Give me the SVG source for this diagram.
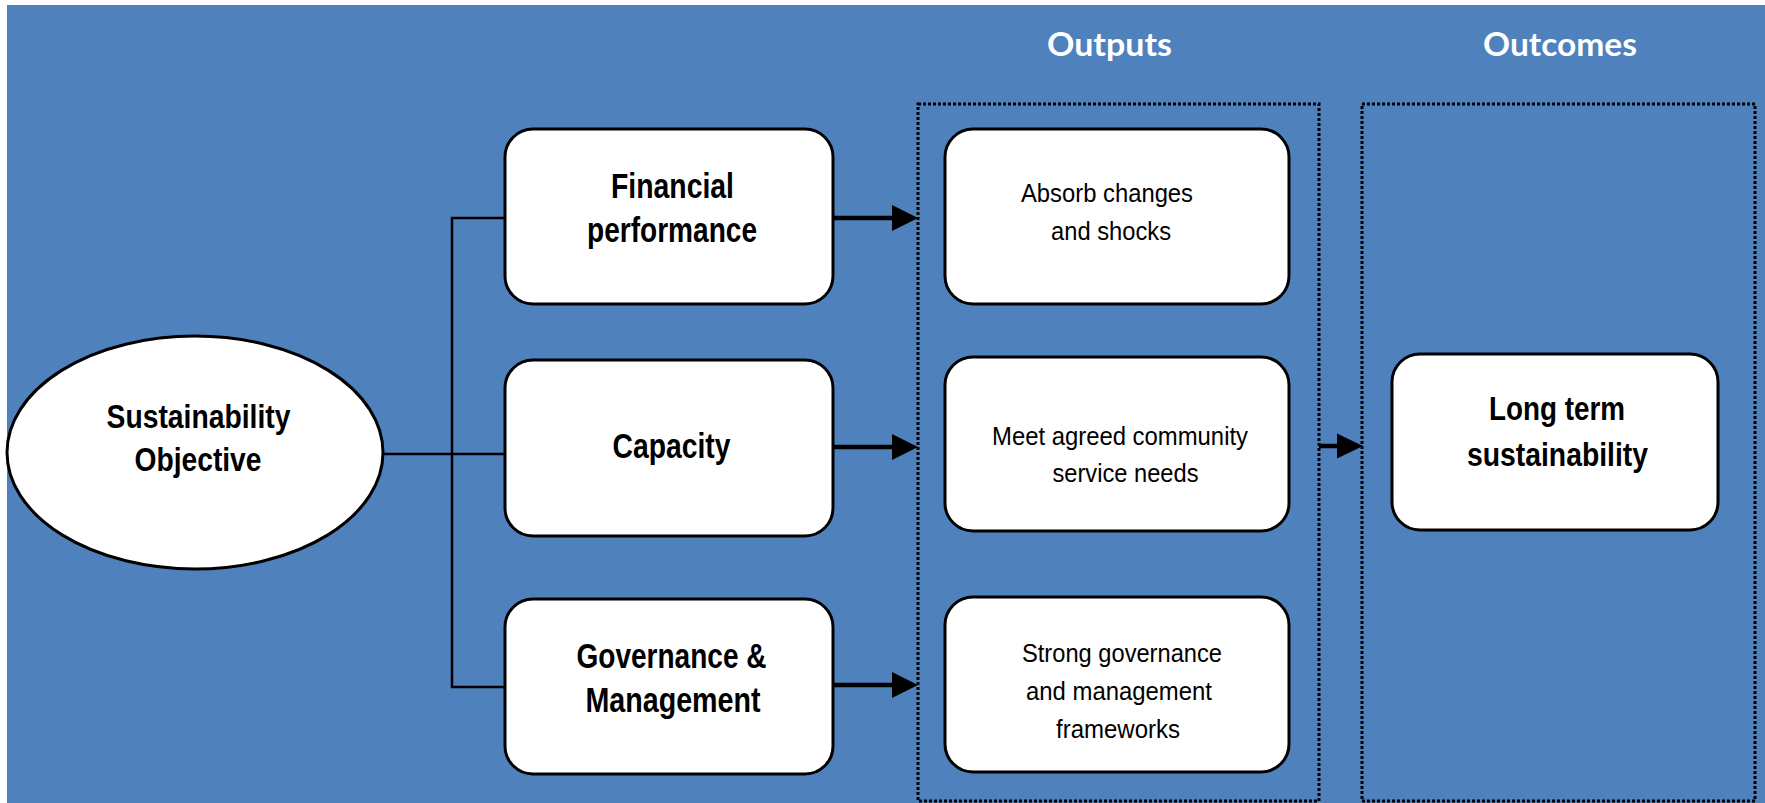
<svg xmlns="http://www.w3.org/2000/svg" width="1765" height="803" viewBox="0 0 1765 803">
<style>
.node{fill:#ffffff;stroke:#000000;stroke-width:3}
.frame{fill:none;stroke:#000000;stroke-width:3;stroke-dasharray:3 2}
.conn{fill:none;stroke:#000000;stroke-width:2.5}
.arr{fill:none;stroke:#000000;stroke-width:4.5}
.head{fill:#000000}
.b{font-family:"Liberation Sans",Arial,sans-serif;font-weight:bold;fill:#000000;text-anchor:middle}
.r{font-family:"Liberation Sans",Arial,sans-serif;fill:#000000;text-anchor:middle;font-size:26px}
.t{font-family:Lato,"Open Sans",sans-serif;font-weight:bold;fill:#ffffff;text-anchor:middle;font-size:33px}
</style>
<rect x="7" y="5" width="1758" height="798" fill="#4F81BD"/>
<g id="titles">
<text class="t" x="1109.5" y="56" textLength="125" lengthAdjust="spacingAndGlyphs">Outputs</text>
<text class="t" x="1560" y="56" textLength="154" lengthAdjust="spacingAndGlyphs">Outcomes</text>
</g>
<g id="frame-outputs"><rect class="frame" x="918" y="104" width="401" height="697"/></g>
<g id="frame-outcomes"><rect class="frame" x="1362" y="104" width="393" height="697"/></g>
<g id="connectors">
<line class="conn" x1="383" y1="454" x2="505" y2="454"/>
<line class="conn" x1="452" y1="217" x2="452" y2="688"/>
<line class="conn" x1="451" y1="218" x2="505" y2="218"/>
<line class="conn" x1="451" y1="687" x2="505" y2="687"/>
<line class="arr" x1="834" y1="218" x2="894" y2="218"/>
<polygon class="head" points="892,205 918,218 892,231"/>
<line class="arr" x1="834" y1="447" x2="894" y2="447"/>
<polygon class="head" points="892,434 918,447 892,460"/>
<line class="arr" x1="834" y1="685" x2="894" y2="685"/>
<polygon class="head" points="892,672 918,685 892,698"/>
<line class="arr" x1="1319" y1="446" x2="1339" y2="446"/>
<polygon class="head" points="1337,433.5 1363,446 1337,458.5"/>
</g>
<g id="objective">
<ellipse class="node" cx="195" cy="452.5" rx="188" ry="116.5"/>
<text class="b" font-size="34" x="198.5" y="427.5" textLength="184" lengthAdjust="spacingAndGlyphs">Sustainability</text>
<text class="b" font-size="34" x="198" y="470.5" textLength="127" lengthAdjust="spacingAndGlyphs">Objective</text>
</g>
<g id="financial">
<rect class="node" x="505" y="129" width="328" height="175" rx="28"/>
<text class="b" font-size="35" x="672.5" y="198" textLength="123" lengthAdjust="spacingAndGlyphs">Financial</text>
<text class="b" font-size="35" x="672" y="242" textLength="170" lengthAdjust="spacingAndGlyphs">performance</text>
</g>
<g id="capacity">
<rect class="node" x="505" y="360" width="328" height="176" rx="28"/>
<text class="b" font-size="35" x="671.5" y="458" textLength="118" lengthAdjust="spacingAndGlyphs">Capacity</text>
</g>
<g id="governance">
<rect class="node" x="505" y="599" width="328" height="175" rx="28"/>
<text class="b" font-size="35" x="671.5" y="668" textLength="190" lengthAdjust="spacingAndGlyphs">Governance &amp;</text>
<text class="b" font-size="35" x="673" y="712" textLength="175" lengthAdjust="spacingAndGlyphs">Management</text>
</g>
<g id="absorb">
<rect class="node" x="945" y="129" width="344" height="175" rx="28"/>
<text class="r" x="1107" y="201.5" textLength="172" lengthAdjust="spacingAndGlyphs">Absorb changes</text>
<text class="r" x="1111" y="239.5" textLength="120" lengthAdjust="spacingAndGlyphs">and shocks</text>
</g>
<g id="meet">
<rect class="node" x="945" y="357" width="344" height="174" rx="28"/>
<text class="r" x="1120" y="445" textLength="256" lengthAdjust="spacingAndGlyphs">Meet agreed community</text>
<text class="r" x="1125.5" y="482" textLength="146" lengthAdjust="spacingAndGlyphs">service needs</text>
</g>
<g id="strong">
<rect class="node" x="945" y="597" width="344" height="175" rx="28"/>
<text class="r" x="1122" y="662" textLength="200" lengthAdjust="spacingAndGlyphs">Strong governance</text>
<text class="r" x="1119" y="700" textLength="186" lengthAdjust="spacingAndGlyphs">and management</text>
<text class="r" x="1118" y="738" textLength="124" lengthAdjust="spacingAndGlyphs">frameworks</text>
</g>
<g id="longterm">
<rect class="node" x="1392" y="354" width="326" height="176" rx="28"/>
<text class="b" font-size="33" x="1557" y="420" textLength="136" lengthAdjust="spacingAndGlyphs">Long term</text>
<text class="b" font-size="33" x="1557.5" y="465.5" textLength="181" lengthAdjust="spacingAndGlyphs">sustainability</text>
</g>
</svg>
